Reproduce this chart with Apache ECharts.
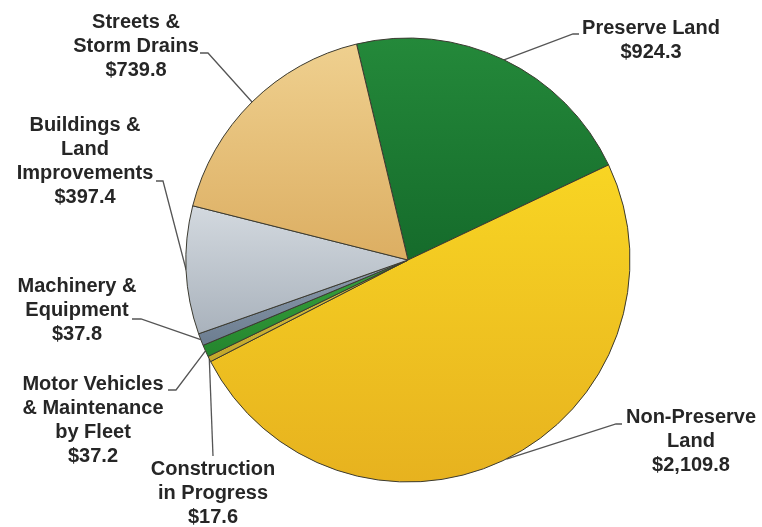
<!DOCTYPE html>
<html>
<head>
<meta charset="utf-8">
<script src="https://cdn.jsdelivr.net/npm/echarts@6/dist/echarts.min.js"></script>
<style>
html,body{margin:0;padding:0;background:#fff;}
#c{width:762px;height:527px;}
</style>
</head>
<body>
<div id="c"></div>
<script>
// ---- data ----
const categories = [
  'Preserve Land',
  'Non-Preserve Land',
  'Construction in Progress',
  'Motor Vehicles & Maintenance by Fleet',
  'Machinery & Equipment',
  'Buildings & Land Improvements',
  'Streets & Storm Drains'
];
const labelNames = [
  'Preserve Land',
  'Non-Preserve\nLand',
  'Construction\nin Progress',
  'Motor Vehicles\n& Maintenance\nby Fleet',
  'Machinery &\nEquipment',
  'Buildings &\nLand\nImprovements',
  'Streets &\nStorm Drains'
];
const values = [924.3, 2109.8, 17.6, 37.2, 37.8, 397.4, 739.8];

// ---- styling / layout (not data) ----
const sliceColors = [
  ['#24893a', '#156b2b'],
  ['#f8d523', '#e7b21f'],
  ['#d9c443', '#c2a62a'],
  ['#39a23c', '#24852e'],
  ['#8d9cad', '#6c7d90'],
  ['#d3d9df', '#a9b2bc'],
  ['#efd08f', '#dcae62']
];
const labelCenters = [[651, 40], [691, 441], [213, 493], [93, 420], [77, 310], [85, 161], [136, 46]];
const labelHooks = [
  [[573, 34], [579, 34]],
  [[616, 424], [622, 424]],
  [[213, 456], [213, 456]],
  [[176, 390], [168, 390]],
  [[141, 319], [132, 319]],
  [[163, 181], [156, 181]],
  [[208, 53], [200, 53]]
];

function fmt(v) {
  return '$' + v.toLocaleString('en-US', {minimumFractionDigits: 1, maximumFractionDigits: 1});
}

const chart = echarts.init(document.getElementById('c'), null, {renderer: 'canvas'});
const data = categories.map((c, i) => ({
  name: c,
  value: values[i],
  itemStyle: {
    color: new echarts.graphic.LinearGradient(0, 0, 0, 1, [
      {offset: 0, color: sliceColors[i][0]},
      {offset: 1, color: sliceColors[i][1]}
    ])
  }
}));

chart.setOption({
  animation: false,
  series: [{
    type: 'pie',
    center: [408, 260],
    radius: 222,
    startAngle: 103.4,
    clockwise: true,
    avoidLabelOverlap: false,
    data: data,
    itemStyle: {borderColor: '#3b3a30', borderWidth: 1},
    label: {
      show: true,
      position: 'outside',
      formatter: p => labelNames[p.dataIndex] + '\n' + fmt(p.value),
      fontFamily: '"Liberation Sans", Arial, sans-serif',
      fontWeight: 'bold',
      fontSize: 20,
      lineHeight: 24,
      color: '#262626',
      align: 'center'
    },
    labelLine: {
      show: true,
      lineStyle: {color: '#555', width: 1.3}
    },
    labelLayout: function (params) {
      const i = params.dataIndex;
      const pts = params.labelLinePoints;
      const res = {
        x: labelCenters[i][0],
        y: labelCenters[i][1],
        align: 'center',
        verticalAlign: 'middle'
      };
      if (pts && pts.length) {
        res.labelLinePoints = [pts[0].slice(), labelHooks[i][0], labelHooks[i][1]];
      }
      return res;
    }
  }]
});
</script>
</body>
</html>
